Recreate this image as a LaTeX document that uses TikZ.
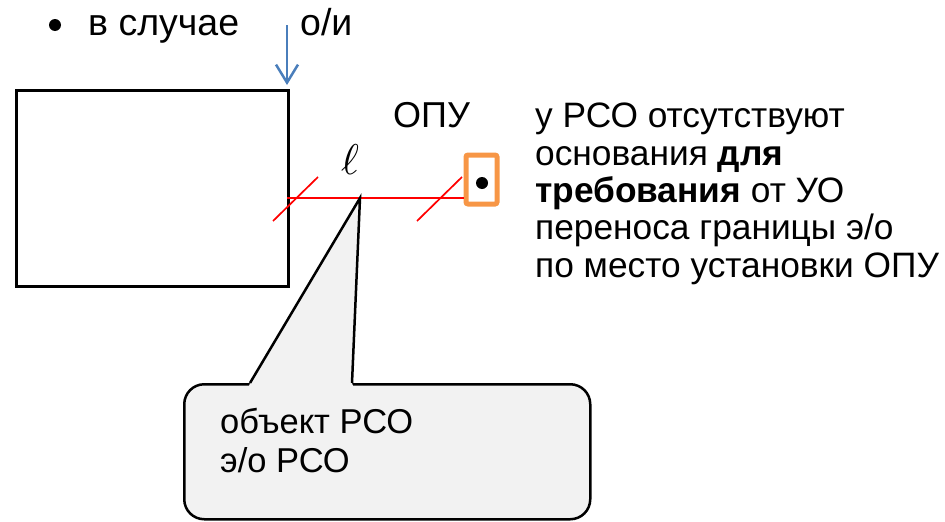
\documentclass[tikz,border=0pt]{standalone}
\usepackage{fontspec}
\setmainfont{Liberation Sans}
\usetikzlibrary{arrows.meta}
\definecolor{arrowblue}{HTML}{4A7EBB}
\definecolor{boxorange}{HTML}{F79646}
\definecolor{callgray}{HTML}{F2F2F2}
\tikzset{
  bigtext/.style={inner sep=0pt, anchor=base west, font=\fontsize{35.3}{37.5}\selectfont},
  toptext/.style={inner sep=0pt, anchor=base west, font=\fontsize{37.5}{37.5}\selectfont},
  calltext/.style={inner sep=0pt, anchor=base west, font=\fontsize{34.5}{38}\selectfont},
  redline/.style={draw=red, line width=1.7pt},
  blackframe/.style={draw=black, line width=2.5pt},
}
\begin{document}
\begin{tikzpicture}[x=1pt,y=-1pt]
\useasboundingbox (0,0) rectangle (945,522);
% top bullet line
\fill[black] (55,25) circle[radius=6pt];
\node[toptext] (case) at (88,35) {в случае};
\node[toptext] (oi) at (300,35) {о/и};
% object rectangle
\node[blackframe, minimum width=272pt, minimum height=196pt, inner sep=0pt, anchor=north west] (obj) at (15,89) {};
\coordinate (arrtop) at (287,25);
\coordinate (arrtip) at (287,85);
\draw[arrowblue, line width=2.5pt, -{Straight Barb[length=18pt,width=22pt,line width=2.5pt]}] (arrtop) -- (arrtip);
% OPU
\node[toptext, font=\fontsize{36}{36}\selectfont] (opu) at (393,127) {ОПУ};
\node[draw=boxorange, line width=5pt, rounded corners=2pt, minimum width=31pt, minimum height=49pt, inner sep=0pt] (meter) at (481.5,179.5) {};
\fill[black] (meter.center) ++(0.5,3.5) circle[radius=6pt];
% red line
\coordinate (lstart) at (287,198);
\coordinate (apex) at (360,198);
\coordinate (lend) at (meter.west |- lstart);
\draw[redline] (lstart) -- (apex) -- (lend);
\draw[redline] (273,221) -- (318,177);
\draw[redline] (417,221) -- (462,177);
\node[inner sep=0pt, scale=4.3] (ell) at (350,160) {$\ell$};
% right text
\node[bigtext] (t1) at (535,127) {у РСО отсутствуют};
\node[bigtext] (t2) at (535,165) {основания \textbf{для}};
\node[bigtext] (t3) at (535,202) {\textbf{требования} от УО};
\node[bigtext] (t4) at (535,239) {переноса границы э/о};
\node[bigtext] (t5) at (535,277) {по место установки ОПУ};
% callout
\node[blackframe, fill=callgray, rounded corners=20pt, minimum width=406pt, minimum height=135pt, inner sep=0pt, anchor=north west] (call) at (183,383) {};
\fill[callgray] (249,386) -- (250,383) -- (apex) -- (352,383) -- (353,386) -- cycle;
\draw[black, line width=2.5pt, line join=miter] (250,383) -- (apex) -- (352,383);
\node[calltext] (c1) at (220,433) {объект РСО};
\node[calltext] (c2) at (220,472) {э/о РСО};
\end{tikzpicture}
\end{document}
